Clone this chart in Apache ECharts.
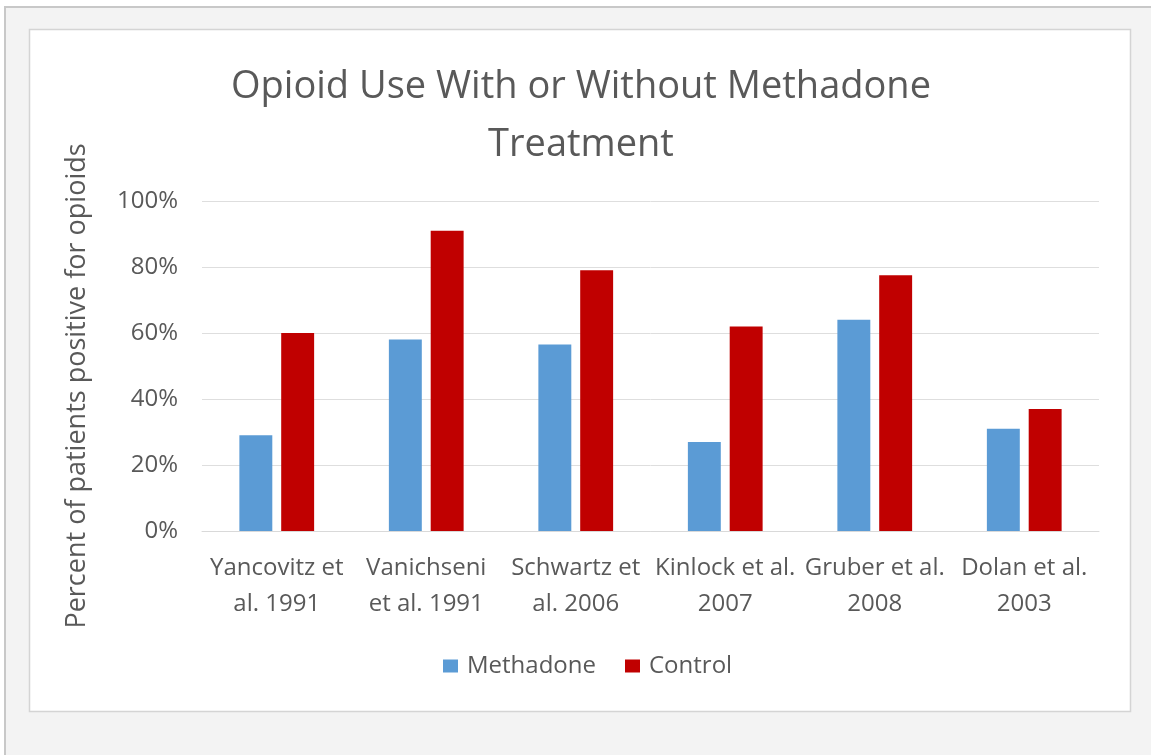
<!DOCTYPE html>
<html>
<head>
<meta charset="utf-8">
<script src="https://cdn.jsdelivr.net/npm/echarts@6/dist/echarts.min.js"></script>
<style>
html,body{margin:0;padding:0;background:#fff;overflow:hidden;}
#c{width:1151px;height:755px;}
</style>
</head>
<body>
<div id="c"></div>
<script>
var categories = ['Yancovitz et\nal. 1991', 'Vanichseni\net al. 1991', 'Schwartz et\nal. 2006', 'Kinlock et al.\n2007', 'Gruber et al.\n2008', 'Dolan et al.\n2003'];
var methadone = [29, 58, 56.5, 27, 64, 31];
var control = [60, 91, 79, 62, 77.5, 37];
var seriesNames = ['Methadone', 'Control'];
var titleText = 'Opioid Use With or Without Methadone\nTreatment';
var yAxisTitle = 'Percent of patients positive for opioids';

var FONT = 'Open Sans';
var TXT = '#595959';
var chart = echarts.init(document.getElementById('c'));
chart.setOption({
  animation: false,
  backgroundColor: '#ffffff',
  graphic: [
    { type: 'rect', z: -10, shape: { x: 5, y: 7, width: 1300, height: 900 },
      style: { fill: '#f3f3f3' } },
    { type: 'line', z: -9, shape: { x1: 4, y1: 7, x2: 1151, y2: 7 },
      style: { stroke: '#c8c8c8', lineWidth: 2 } },
    { type: 'line', z: -9, shape: { x1: 5, y1: 6, x2: 5, y2: 755 },
      style: { stroke: '#c8c8c8', lineWidth: 2 } },
    { type: 'rect', z: -8, shape: { x: 29.5, y: 29.5, width: 1101, height: 682 },
      style: { fill: '#ffffff', stroke: '#d4d4d4', lineWidth: 1.5 } },
    { type: 'text', x: 77, y: 386, rotation: Math.PI / 2,
      style: { text: yAxisTitle, fill: TXT, font: '27px "' + FONT + '"', align: 'center', verticalAlign: 'middle' } }
  ],
  title: {
    text: titleText,
    left: 576,
    top: 53,
    textAlign: 'center',
    textStyle: { fontFamily: FONT, fontSize: 38, fontWeight: 'normal', color: TXT, lineHeight: 58, align: 'center' }
  },
  legend: {
    data: seriesNames,
    bottom: 72,
    left: 438,
    icon: 'rect',
    itemWidth: 15,
    itemHeight: 13,
    itemGap: 29,
    textStyle: { fontFamily: FONT, fontSize: 24, color: TXT, padding: [0, 0, 0, 4] }
  },
  grid: { left: 202, right: 52, top: 201, bottom: 224, containLabel: false },
  xAxis: {
    type: 'category',
    data: categories,
    axisLine: { lineStyle: { color: '#d9d9d9', width: 1 } },
    axisTick: { show: false },
    axisLabel: { fontFamily: FONT, fontSize: 24, color: TXT, lineHeight: 36, margin: 19, interval: 0 }
  },
  yAxis: {
    type: 'value',
    min: 0, max: 100, interval: 20,
    axisLine: { show: false },
    axisTick: { show: false },
    splitLine: { lineStyle: { color: '#dedede', width: 1 } },
    axisLabel: { fontFamily: FONT, fontSize: 24, color: TXT, margin: 24, formatter: '{value}%' }
  },
  series: [
    { name: seriesNames[0], type: 'bar', data: methadone, barGap: '27%', barCategoryGap: '50%',
      itemStyle: { color: '#5b9bd5' } },
    { name: seriesNames[1], type: 'bar', data: control, barGap: '27%', barCategoryGap: '50%',
      itemStyle: { color: '#c00000' } }
  ]
});
</script>
</body>
</html>
